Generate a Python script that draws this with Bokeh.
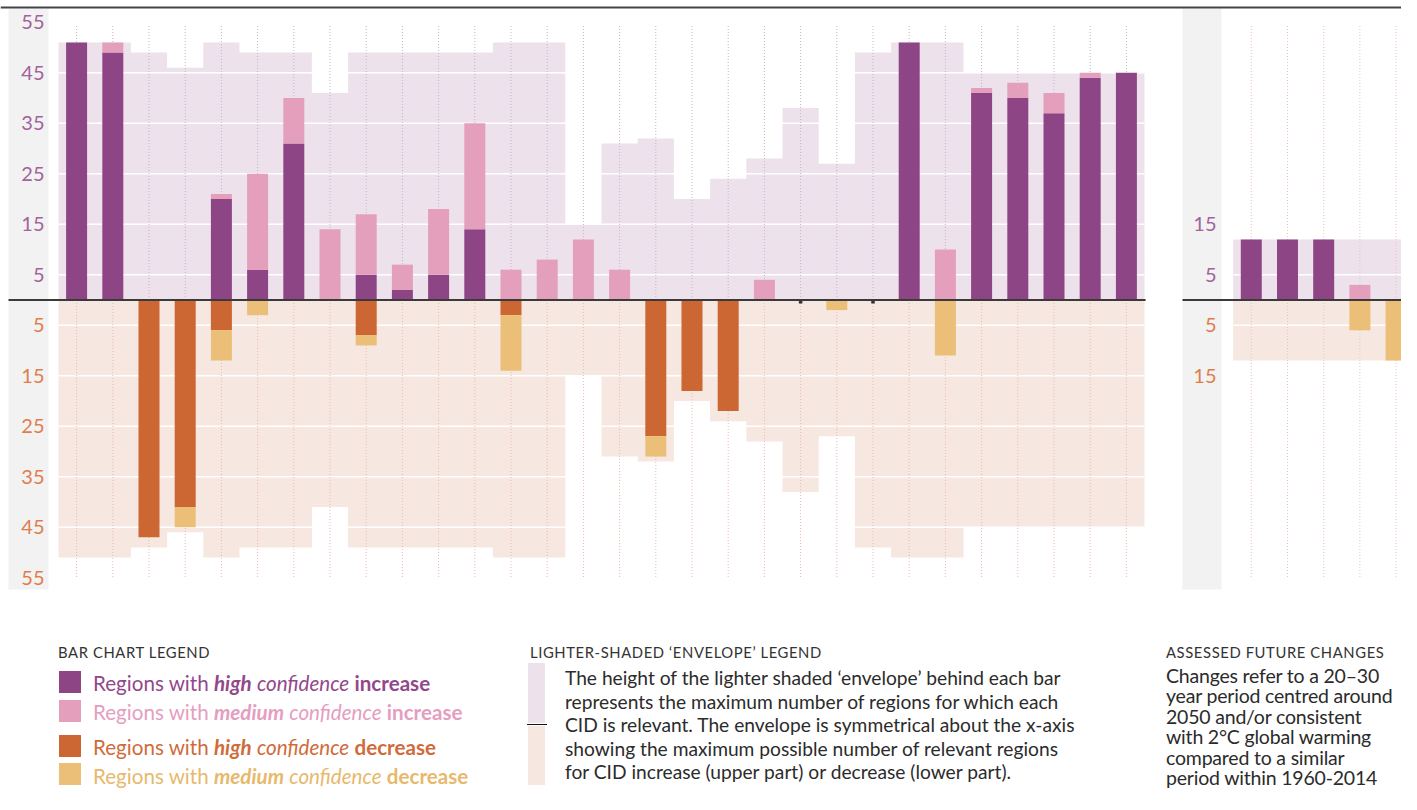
import numpy as np
from bokeh.plotting import figure
from bokeh.models import Range1d, Div, Span
from bokeh.layouts import column
from bokeh.core.properties import value
from bokeh.embed import file_html
from bokeh.resources import INLINE

# ---------------- data ----------------
# 30 climatic impact-drivers (observed/main panel), number of regions
high_inc = [51, 49, 0, 0, 20, 6, 31, 0, 5, 2, 5, 14, 0, 0, 0, 0, 0, 0, 0, 0, 0, 0, 0, 51, 0, 41, 40, 37, 44, 45]
med_inc = [0, 2, 0, 0, 1, 19, 9, 14, 12, 5, 13, 21, 6, 8, 12, 6, 0, 0, 0, 4, 0, 0, 0, 0, 10, 1, 3, 4, 1, 0]
high_dec = [0, 0, 47, 41, 6, 0, 0, 0, 7, 0, 0, 0, 3, 0, 0, 0, 27, 18, 22, 0, 0, 0, 0, 0, 0, 0, 0, 0, 0, 0]
med_dec = [0, 0, 0, 4, 6, 3, 0, 0, 2, 0, 0, 0, 11, 0, 0, 0, 4, 0, 0, 0, 0, 2, 0, 0, 11, 0, 0, 0, 0, 0]
envelope = [51, 51, 49, 46, 51, 49, 49, 41, 49, 49, 49, 49, 51, 51, 15, 31, 32, 20, 24, 28, 38, 27, 49, 51, 51,
            45, 45, 45, 45, 45]

# assessed future changes panel
fut_high_inc = [12, 12, 12, 0, 0]
fut_med_inc = [0, 0, 0, 3, 0]
fut_high_dec = [0, 0, 0, 0, 0]
fut_med_dec = [0, 0, 0, 6, 12]
fut_envelope = [12, 12, 12, 12, 12]

main_ticks = [55, 45, 35, 25, 15, 5]
fut_ticks = [15, 5]
grid_vals = [5, 15, 25, 35, 45]

# ---------------- colours ----------------
C_HI_INC = "#8e4585"
C_MED_INC = "#e39fbb"
C_HI_DEC = "#cc6633"
C_MED_DEC = "#ebbf77"
C_ENV_UP = "#ede2ec"
C_ENV_DN = "#f6e7e1"
C_LAB_UP = "#a2629c"
C_LAB_DN = "#e07d4c"
FONT = "Lato"

# ---------------- geometry helpers (picture pixels -> data) ----------------
X0_PX, SLOT, Y0_PX, UNIT = 58.0, 36.2, 299.5, 5.05
FUT_OFFSET = 32.45


def px2x(px):
    return (px - X0_PX) / SLOT


def px2y(py):
    return (Y0_PX - py) / UNIT


W, H = 1401, 620
LEG_H = 174
p = figure(width=W, height=H, output_backend="svg", toolbar_location=None,
           x_axis_type=None, y_axis_type=None,
           x_range=Range1d(px2x(0), px2x(W)), y_range=Range1d(px2y(H), px2y(0)),
           min_border=0, min_border_left=0, min_border_right=0, min_border_top=0, min_border_bottom=0)
p.outline_line_color = None
p.grid.visible = False
p.background_fill_color = "white"
p.border_fill_color = "white"
p.margin = (0, 0, 0, 0)

# grey axis-label boxes
p.quad(left=px2x(8), right=px2x(48), top=px2y(8), bottom=px2y(589), color="#f2f2f2", line_color=None)
p.quad(left=px2x(1182), right=px2x(1221), top=px2y(8), bottom=px2y(589), color="#f2f2f2", line_color=None)


def draw_panel(offset, hi_i, md_i, hi_d, md_d, env, dot_up, dot_dn):
    n = len(env)
    env = np.array(env, dtype=float)
    xs, ys = [], []
    for i, e in enumerate(env):
        xs += [offset + i, offset + i + 1]
        ys += [e, e]
    ys = np.array(ys)
    p.varea(x=xs, y1=0, y2=ys, fill_color=C_ENV_UP)
    p.varea(x=xs, y1=0, y2=-ys, fill_color=C_ENV_DN)
    # white grid lines across the envelope
    gv = np.array(grid_vals, dtype=float)
    gy = np.concatenate([gv, -gv])
    p.segment(x0=[offset] * len(gy), x1=[offset + n] * len(gy), y0=gy, y1=gy,
              line_color="white", line_width=1.6)
    cx = offset + np.arange(n) + 0.5
    p.segment(x0=cx, x1=cx, y0=np.zeros(n), y1=np.full(n, 54.5), line_color=dot_up,
              line_dash="1 2", line_width=1)
    p.segment(x0=cx, x1=cx, y0=np.zeros(n), y1=np.full(n, -55.0), line_color=dot_dn,
              line_dash="1 2", line_width=1)
    hi_i, md_i = np.array(hi_i, float), np.array(md_i, float)
    hi_d, md_d = np.array(hi_d, float), np.array(md_d, float)
    bw = 0.58
    p.vbar(x=cx, width=bw, bottom=0, top=hi_i, fill_color=C_HI_INC, line_color=None)
    p.vbar(x=cx, width=bw, bottom=hi_i, top=hi_i + md_i, fill_color=C_MED_INC, line_color=None)
    p.vbar(x=cx, width=bw, top=0, bottom=-hi_d, fill_color=C_HI_DEC, line_color=None)
    p.vbar(x=cx, width=bw, top=-hi_d, bottom=-(hi_d + md_d), fill_color=C_MED_DEC, line_color=None)
    none = (hi_i + md_i + hi_d + md_d) == 0
    if none.any():
        p.scatter(x=cx[none], y=np.full(none.sum(), -0.35), marker="square", size=3.5,
                  fill_color="#333333", line_color=None)


draw_panel(0.0, high_inc, med_inc, high_dec, med_dec, envelope, "#cdb0c9", "#e9bca9")
draw_panel(FUT_OFFSET, fut_high_inc, fut_med_inc, fut_high_dec, fut_med_dec, fut_envelope, "#ebc4b8", "#ebc4b8")

# zero lines
p.segment(x0=[px2x(8)], x1=[float(len(envelope)) + 0.03], y0=[0], y1=[0], line_color="#3a3a3a", line_width=2)
p.segment(x0=[px2x(1182)], x1=[px2x(W)], y0=[0], y1=[0], line_color="#3a3a3a", line_width=2)

# top rule
p.add_layout(Span(location=px2y(7), dimension="width", line_color="#444444", line_width=2))

# tick labels
mt = np.array(main_ticks, dtype=float)
p.text(x=[px2x(44)] * len(mt), y=mt, text=[str(int(v)) for v in mt], text_align="right",
       text_baseline="middle", text_font=value(FONT), text_font_size="20px", text_color=C_LAB_UP)
p.text(x=[px2x(44)] * len(mt), y=-mt, text=[str(int(v)) for v in mt], text_align="right",
       text_baseline="middle", text_font=value(FONT), text_font_size="20px", text_color=C_LAB_DN)
ft = np.array(fut_ticks, dtype=float)
p.text(x=[px2x(1216)] * len(ft), y=ft, text=[str(int(v)) for v in ft], text_align="right",
       text_baseline="middle", text_font=value(FONT), text_font_size="20px", text_color=C_LAB_UP)
p.text(x=[px2x(1216)] * len(ft), y=-ft, text=[str(int(v)) for v in ft], text_align="right",
       text_baseline="middle", text_font=value(FONT), text_font_size="20px", text_color=C_LAB_DN)

# ---------------- legend area (HTML) ----------------
legend_rows = [
    ("Regions with <b><i>high</i></b> <i>confidence</i> <b>increase</b>", C_HI_INC, "#93478b"),
    ("Regions with <b><i>medium</i></b> <i>confidence</i> <b>increase</b>", C_MED_INC, "#e59ec0"),
    ("Regions with <b><i>high</i></b> <i>confidence</i> <b>decrease</b>", C_HI_DEC, "#d06b3a"),
    ("Regions with <b><i>medium</i></b> <i>confidence</i> <b>decrease</b>", C_MED_DEC, "#e7b96c"),
]
OY = H  # legend block starts at this picture row
sq_tops = [671, 700, 735, 763]
txt_centers = [683, 712, 747, 776]

parts = []
hdr = ("position:absolute;white-space:nowrap;font-size:14.8px;letter-spacing:0.6px;color:#333;"
       "line-height:18px;")
parts.append(f'<div style="{hdr}left:58px;top:{652 - 9 - OY}px;">BAR CHART LEGEND</div>')
for (txt, sq, tc), t, c in zip(legend_rows, sq_tops, txt_centers):
    parts.append(f'<div style="position:absolute;left:59px;top:{t - OY}px;width:22px;height:22px;'
                 f'background:{sq};"></div>')
    parts.append(f'<div style="position:absolute;left:93px;top:{c - 13 - OY}px;line-height:26px;'
                 f'font-size:20.6px;white-space:nowrap;color:{tc};">{txt}</div>')

parts.append(f'<div style="{hdr}left:530px;top:{652 - 9 - OY}px;">LIGHTER-SHADED \u2018ENVELOPE\u2019 LEGEND</div>')
parts.append(f'<div style="position:absolute;left:528px;top:{663 - OY}px;width:17px;height:60px;'
             f'background:{C_ENV_UP};"></div>')
parts.append(f'<div style="position:absolute;left:528px;top:{726 - OY}px;width:17px;height:59px;'
             f'background:{C_ENV_DN};"></div>')
parts.append(f'<div style="position:absolute;left:527px;top:{723.5 - OY}px;width:20px;height:1.5px;'
             f'background:#111;"></div>')
env_text = ("The height of the lighter shaded \u2018envelope\u2019 behind each bar<br>"
            "represents the maximum number of regions for which each<br>"
            "CID is relevant. The envelope is symmetrical about the x-axis<br>"
            "showing the maximum possible number of relevant regions<br>"
            "for CID increase (upper part) or decrease (lower part).")
parts.append(f'<div style="position:absolute;left:565px;top:{678 - 11.75 - OY}px;line-height:23.5px;'
             f'font-size:19.2px;white-space:nowrap;color:#2b2b2b;">{env_text}</div>')

parts.append(f'<div style="{hdr}left:1166px;top:{652 - 9 - OY}px;">ASSESSED FUTURE CHANGES</div>')
fut_text = ("Changes refer to a 20\u201330<br>year period centred around<br>2050 and/or consistent<br>"
            "with 2\u00b0C global warming<br>compared to a similar<br>period within 1960-2014")
parts.append(f'<div style="position:absolute;left:1166px;top:{676 - 10.25 - OY}px;line-height:20.5px;'
             f'font-size:19.5px;letter-spacing:-0.2px;white-space:nowrap;color:#2b2b2b;">{fut_text}</div>')

html = (f'<div style="position:relative;width:{W}px;height:{LEG_H}px;overflow:hidden;'
        f'font-family:Lato,sans-serif;">' + "".join(parts) + "</div>")
legend = Div(text=html, width=W, height=LEG_H, margin=(0, 0, 0, 0))

layout = column(p, legend, spacing=0, margin=(0, 0, 0, 0))
open("out.html", "w").write(file_html(layout, INLINE))
